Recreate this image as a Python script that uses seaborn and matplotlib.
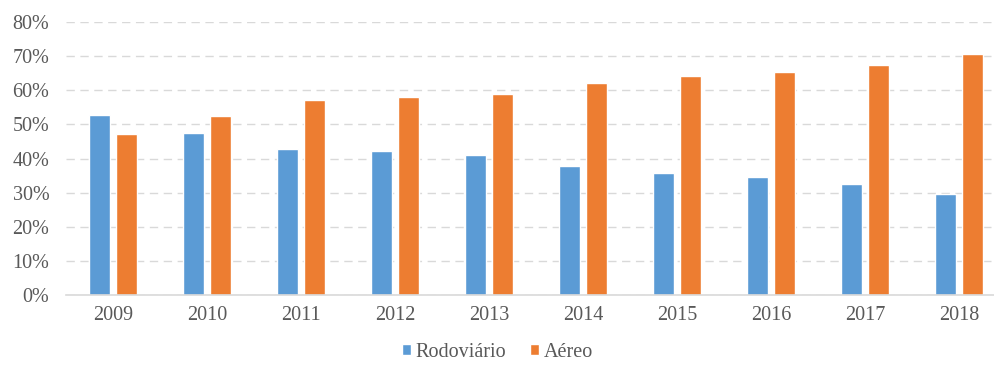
import pandas as pd
import matplotlib
matplotlib.use('Agg')
import matplotlib.pyplot as plt
from matplotlib.ticker import PercentFormatter
import seaborn as sns

# values
anos = ['2009', '2010', '2011', '2012', '2013', '2014', '2015', '2016', '2017', '2018']
rodoviario = [52.8, 47.4, 42.8, 42.1, 41.1, 37.9, 35.8, 34.6, 32.5, 29.5]
aereo = [47.2, 52.6, 57.2, 57.9, 58.9, 62.1, 64.2, 65.4, 67.5, 70.5]

df = pd.DataFrame({'Ano': anos, 'Rodoviário': rodoviario, 'Aéreo': aereo})
df_melted = df.melt(id_vars='Ano', var_name='Modal', value_name='Participação')
df_melted['Participação'] = df_melted['Participação'] / 100

sns.set_style('white')
plt.rcParams['font.family'] = ['Liberation Serif', 'DejaVu Serif']
text_color = '#595959'

fig = plt.figure(figsize=(9.95, 3.67), dpi=100)
ax = fig.add_axes([66 / 995, (367 - 295) / 367, 940 / 995, (295 - 22) / 367])

sns.barplot(data=df_melted, x='Ano', y='Participação', hue='Modal',
            palette=['#5B9BD5', '#ED7D31'], width=0.585, gap=0.24,
            saturation=1, ax=ax)

ax.set_xlim(-0.5, 9.5)
ax.set_ylim(0, 0.8)
ax.set_yticks([i / 10 for i in range(9)])
ax.yaxis.set_major_formatter(PercentFormatter(1.0, decimals=0))
ax.grid(axis='y', color='#D9D9D9', linestyle=(0, (6, 4)), linewidth=1)
ax.set_axisbelow(True)
for side in ['top', 'right', 'left']:
    ax.spines[side].set_visible(False)
ax.spines['bottom'].set_color('#D9D9D9')
ax.spines['bottom'].set_linewidth(1.2)

ax.tick_params(axis='both', length=0, labelsize=14.5, colors=text_color)
ax.tick_params(axis='y', pad=12)
ax.tick_params(axis='x', pad=8)
ax.set_xlabel('')
ax.set_ylabel('')

ax.legend().remove()
handles, labels = ax.get_legend_handles_labels()
fig.legend(handles, labels, loc='center', bbox_to_anchor=(0.5, 0.04), ncol=2,
           frameon=False, fontsize=14.5, labelcolor=text_color,
           handlelength=0.45, handleheight=0.45, handletextpad=0.2,
           columnspacing=1.2)

plt.savefig('out.png', dpi=100)
